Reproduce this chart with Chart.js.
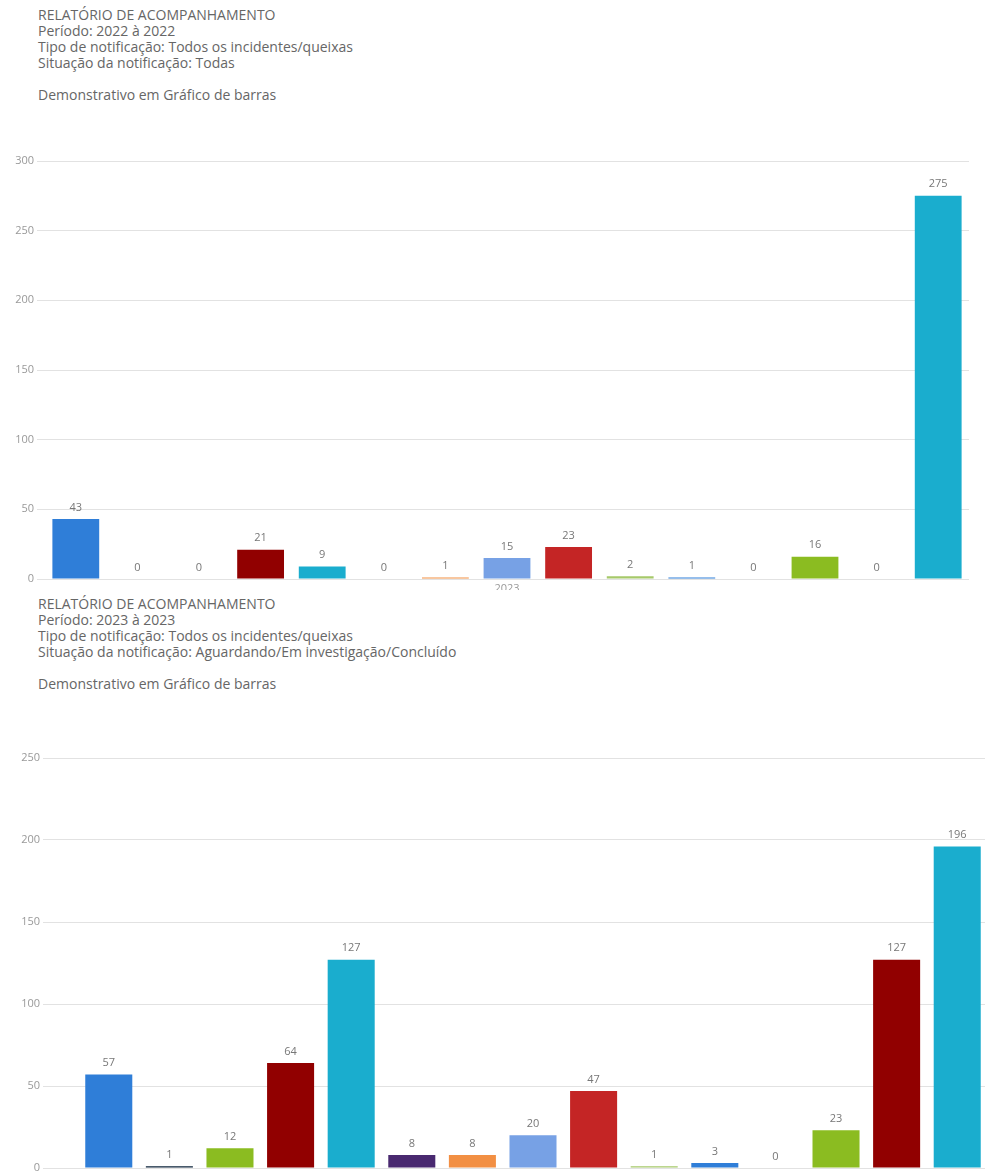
<!DOCTYPE html>
<html>
<head>
<meta charset="utf-8">
<script src="https://cdn.jsdelivr.net/npm/chart.js@4"></script>
<style>
    html, body { margin: 0; padding: 0; background: #fff; overflow: hidden; }
    body { width: 985px; height: 1173px; position: relative; font-family: "Open Sans", sans-serif; }
    .header { position: absolute; left: 38px; font-size: 14px; line-height: 16px; color: #666; }
    .header p { margin: 0; }
    .box { position: absolute; left: 0; overflow: hidden; }
</style>
</head>
<body>

<div class="header" style="top: 7px;">
    <p>RELATÓRIO DE ACOMPANHAMENTO</p>
    <p>Período: 2022 à 2022</p>
    <p>Tipo de notificação: Todos os incidentes/queixas</p>
    <p>Situação da notificação: Todas</p>
    <p>&nbsp;</p>
    <p>Demonstrativo em Gráfico de barras</p>
</div>
<div class="box" style="top: 151px; width: 985px; height: 439px;">
    <canvas id="chart2022" width="985" height="458" style="width:985px;height:458px"></canvas>
</div>

<div class="header" style="top: 596px;">
    <p>RELATÓRIO DE ACOMPANHAMENTO</p>
    <p>Período: 2023 à 2023</p>
    <p>Tipo de notificação: Todos os incidentes/queixas</p>
    <p>Situação da notificação: Aguardando/Em investigação/Concluído</p>
    <p>&nbsp;</p>
    <p>Demonstrativo em Gráfico de barras</p>
</div>
<div class="box" style="top: 748px; width: 985px; height: 425px;">
    <canvas id="chart2023" width="1015" height="450" style="width:1015px;height:450px"></canvas>
</div>

<script>
// Highcharts-like palette, one colour per series (repeats)
const palette = ['#2f7ed8', '#0d233a', '#8bbc21', '#910000', '#1aadce',
                 '#492970', '#f28f43', '#77a1e5', '#c42525', '#a6c96a'];

const categories2022 = ['2023'];
const values2022 = [43, 0, 0, 21, 9, 0, 1, 15, 23, 2, 1, 0, 16, 0, 275];
const ticks2022 = [0, 50, 100, 150, 200, 250, 300];

const categories2023 = ['2023'];
const values2023 = [57, 1, 12, 64, 127, 8, 8, 20, 47, 1, 3, 0, 23, 127, 196];
const ticks2023 = [0, 50, 100, 150, 200, 250];

// draws the value above each bar
const valueLabels = {
    id: 'valueLabels',
    afterDatasetsDraw(chart) {
        const ctx = chart.ctx;
        ctx.save();
        ctx.font = '11px "Open Sans", sans-serif';
        ctx.fillStyle = '#777';
        ctx.textAlign = 'center';
        ctx.textBaseline = 'bottom';
        chart.data.datasets.forEach((ds, i) => {
            chart.getDatasetMeta(i).data.forEach((bar, j) => {
                ctx.fillText(ds.data[j], bar.x, bar.y - 6);
            });
        });
        ctx.restore();
    }
};

function makeChart(id, labels, values, tickVals, opts) {
    const datasets = values.map((v, i) => ({
        label: 'Série ' + (i + 1),
        data: [v],
        backgroundColor: palette[i % palette.length],
        barPercentage: opts.barPct,
        categoryPercentage: opts.catPct
    }));

    return new Chart(document.getElementById(id), {
        type: 'bar',
        data: { labels: labels, datasets: datasets },
        plugins: [valueLabels],
        options: {
            responsive: false,
            animation: false,
            layout: { padding: { top: 10, bottom: 10, left: 0, right: opts.padRight } },
            plugins: { legend: { display: false }, tooltip: { enabled: false } },
            scales: {
                x: {
                    grid: { display: false, drawTicks: false },
                    border: { display: false },
                    ticks: { color: '#999', font: { family: 'Open Sans', size: 11 } },
                    afterFit: s => { s.height = 20; }
                },
                y: {
                    min: 0,
                    max: tickVals[tickVals.length - 1],
                    afterBuildTicks: s => { s.ticks = tickVals.map(v => ({ value: v })); },
                    grid: { color: '#e2e2e2', tickLength: 8 },
                    border: { display: false },
                    ticks: { color: '#999', padding: 3, font: { family: 'Open Sans', size: 11 } },
                    afterFit: s => { s.width = opts.axisWidth; }
                }
            }
        }
    });
}

makeChart('chart2022', categories2022, values2022, ticks2022,
    { barPct: 0.76, catPct: 1.0, axisWidth: 45, padRight: 16 });
makeChart('chart2023', categories2023, values2023, ticks2023,
    { barPct: 0.776, catPct: 0.943, axisWidth: 51, padRight: 0 });
</script>
</body>
</html>
